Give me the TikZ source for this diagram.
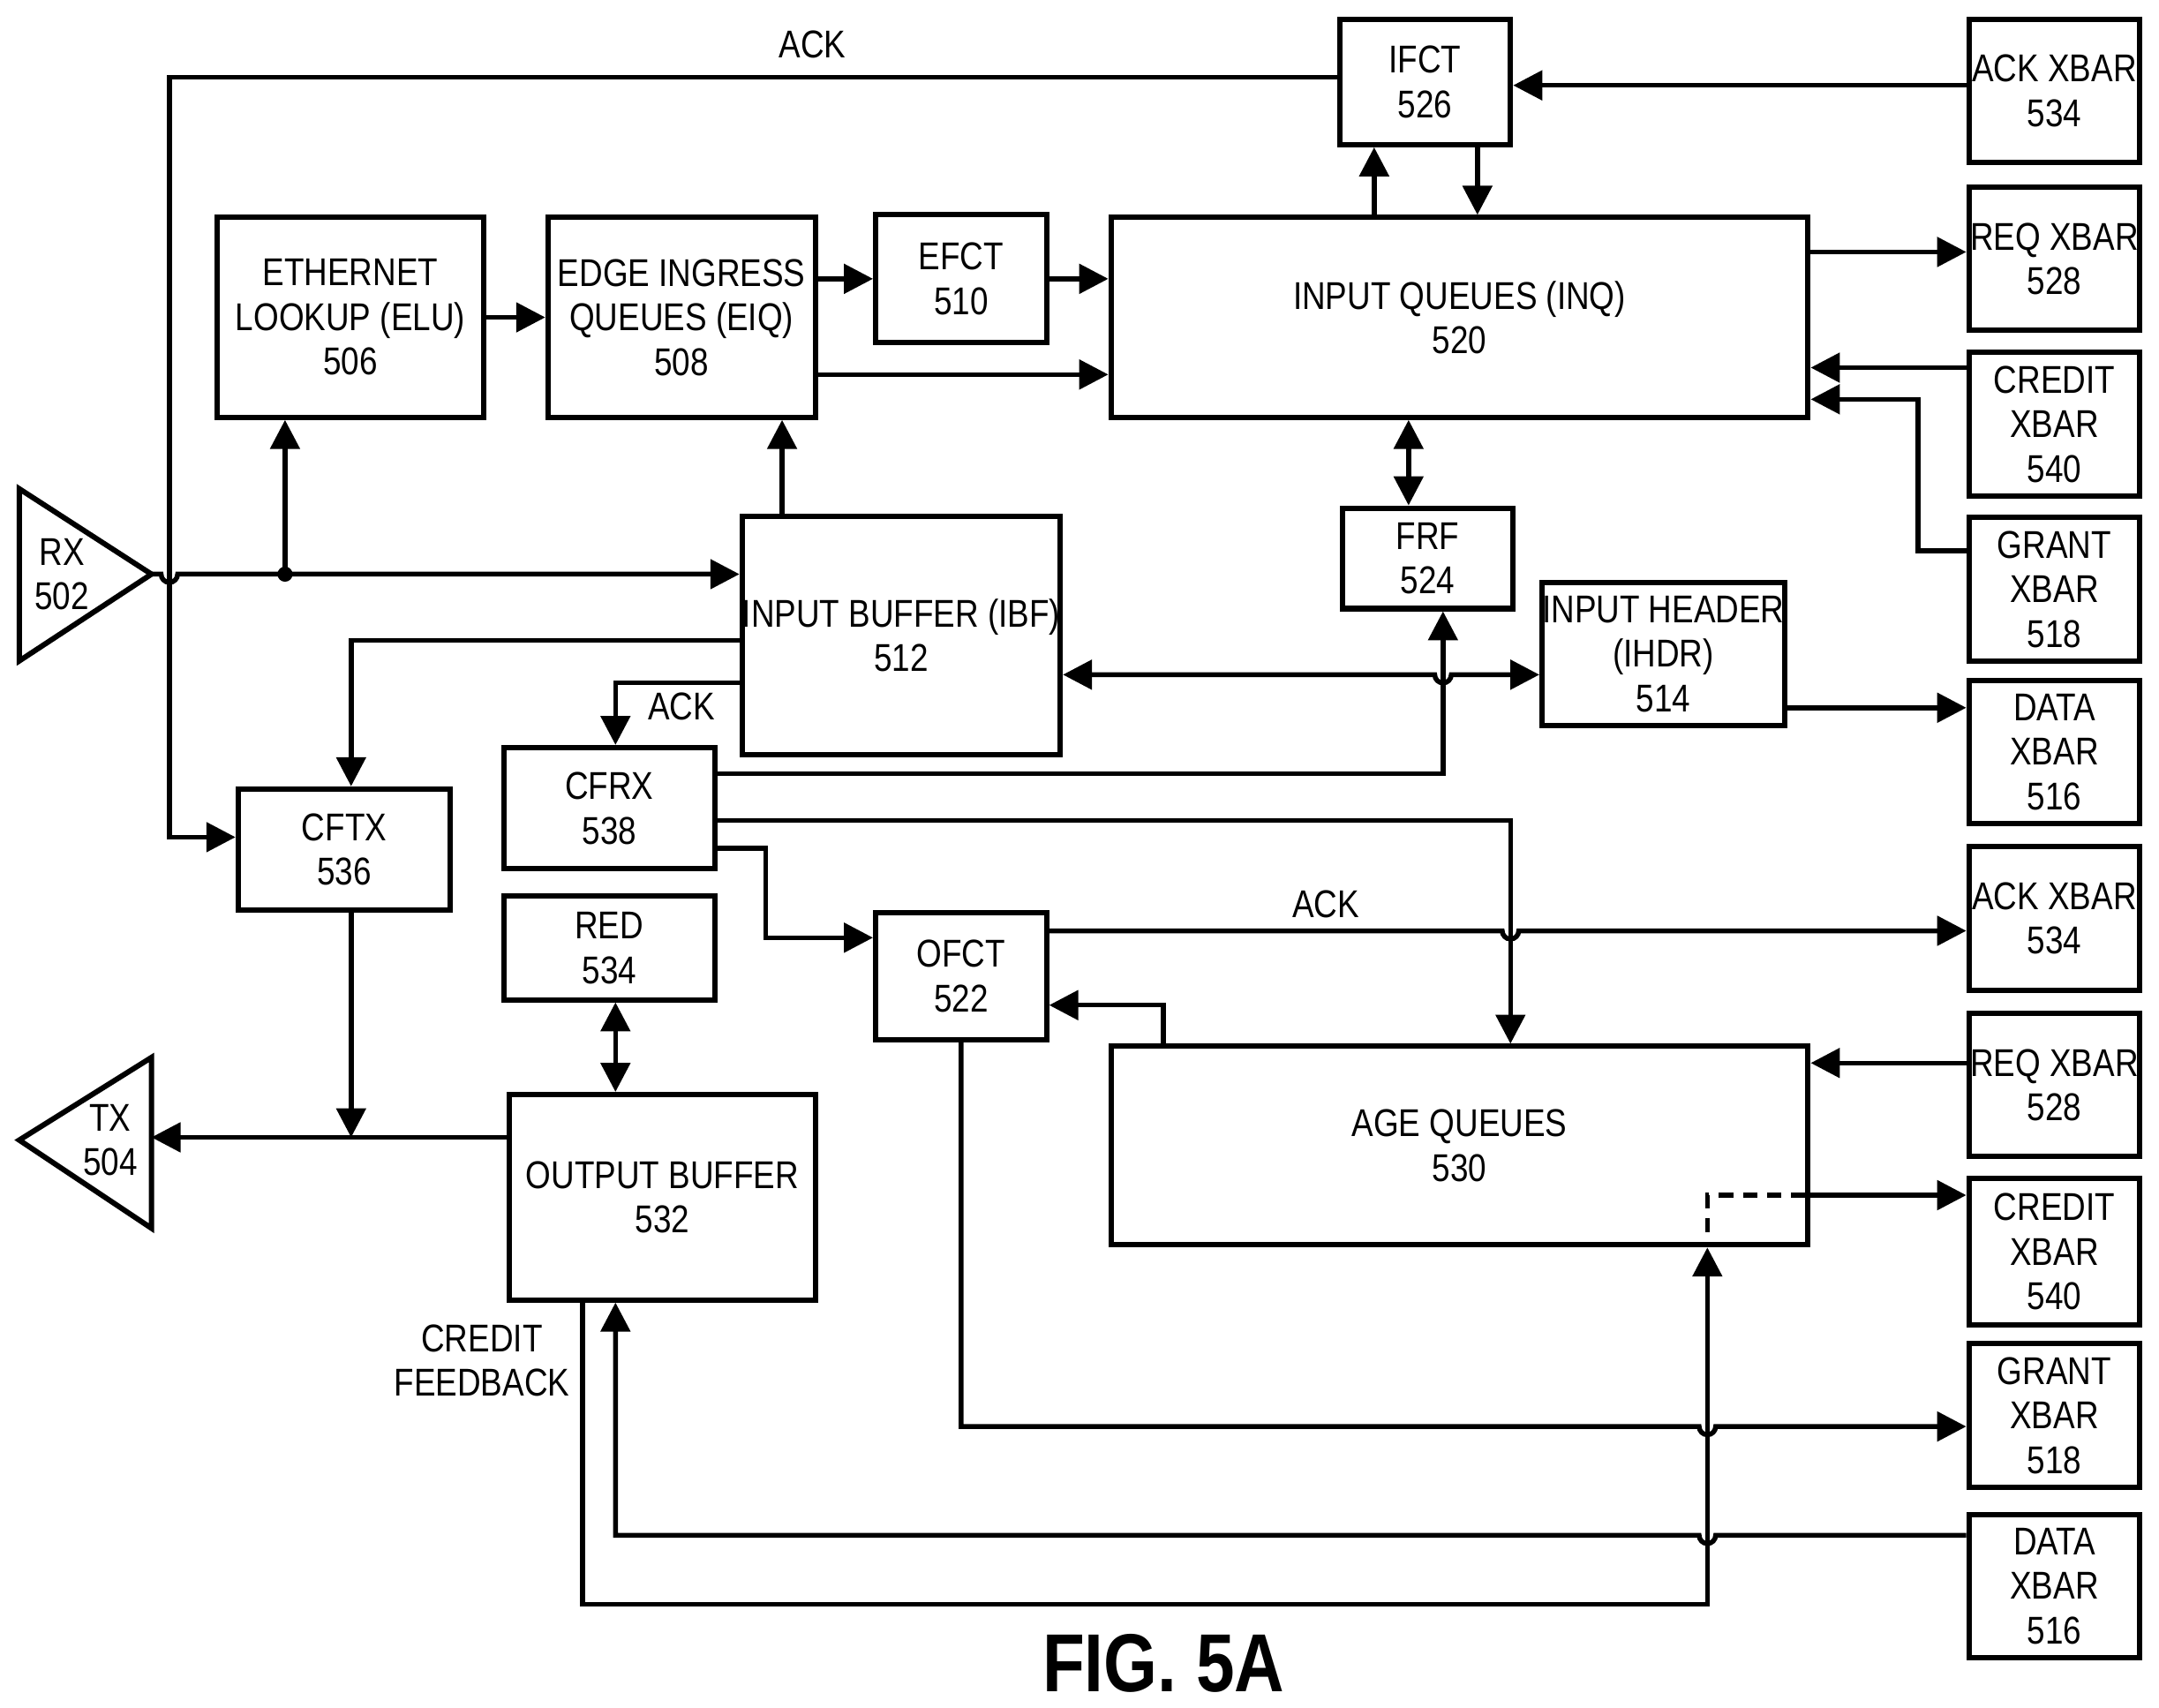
\documentclass[tikz,border=0pt]{standalone}
\usepackage{fontspec}
\setmainfont{Liberation Sans}[FakeStretch=0.84]
\usetikzlibrary{arrows.meta}

\tikzset{
  box/.style={draw,line width=1.1pt,rectangle,align=center,inner sep=0pt,font=\fontsize{8}{9.2}\selectfont},
  lbl/.style={align=center,inner sep=0pt,font=\fontsize{8}{9.2}\selectfont},
  wire/.style={line width=1pt},
  arr/.style={wire,-{Triangle[length=6pt,width=6pt]}},
  darr/.style={wire,{Triangle[length=6pt,width=6pt]}-{Triangle[length=6pt,width=6pt]}},
}
\newcommand{\hopR}{arc[start angle=180,end angle=360,radius=0.06cm]}
\newcommand{\hopL}{arc[start angle=0,end angle=-180,radius=0.06cm]}

\begin{document}
\begin{tikzpicture}[x=0.01cm,y=-0.01cm]
	\useasboundingbox (0,0) rectangle (1568,1240);

	% xbar column
	\node[box,minimum width=1.24cm,minimum height=1.04cm] (ackA) at (1492,66) {ACK XBAR\\534};
	\node[box,minimum width=1.24cm,minimum height=1.04cm] (reqA) at (1492,188) {REQ XBAR\\528};
	\node[box,minimum width=1.24cm,minimum height=1.04cm] (crdA) at (1492,308) {CREDIT\\XBAR\\540};
	\node[box,minimum width=1.24cm,minimum height=1.04cm] (grtA) at (1492,428) {GRANT\\XBAR\\518};
	\node[box,minimum width=1.24cm,minimum height=1.04cm] (datA) at (1492,546) {DATA\\XBAR\\516};
	\node[box,minimum width=1.24cm,minimum height=1.04cm] (ackB) at (1492,667) {ACK XBAR\\534};
	\node[box,minimum width=1.24cm,minimum height=1.04cm] (reqB) at (1492,788) {REQ XBAR\\528};
	\node[box,minimum width=1.24cm,minimum height=1.06cm] (crdB) at (1492,909) {CREDIT\\XBAR\\540};
	\node[box,minimum width=1.24cm,minimum height=1.04cm] (grtB) at (1492,1028) {GRANT\\XBAR\\518};
	\node[box,minimum width=1.24cm,minimum height=1.04cm] (datB) at (1492,1152) {DATA\\XBAR\\516};

	% ingress side
	\node[box,minimum width=1.24cm,minimum height=0.91cm] (ifct) at (1035,59.5) {IFCT\\526};
	\node[box,minimum width=1.93cm,minimum height=1.45cm] (elu) at (254.5,230.5) {ETHERNET\\LOOKUP (ELU)\\506};
	\node[box,minimum width=1.94cm,minimum height=1.45cm] (eiq) at (495,230.5) {EDGE INGRESS\\QUEUES (EIQ)\\508};
	\node[box,minimum width=1.24cm,minimum height=0.93cm] (efct) at (698,202.5) {EFCT\\510};
	\node[box,minimum width=5.06cm,minimum height=1.45cm] (inq) at (1060,230.5) {INPUT QUEUES (INQ)\\520};
	\node[box,minimum width=1.24cm,minimum height=0.73cm] (frf) at (1037,405.5) {FRF\\524};
	\node[box,minimum width=2.23cm,minimum height=1.73cm] (ibf) at (654.5,461.5) {INPUT BUFFER (IBF)\\512};
	\node[box,minimum width=1.76cm,minimum height=1.04cm] (ihdr) at (1208,475) {INPUT HEADER\\(IHDR)\\514};
	\node[box,minimum width=1.53cm,minimum height=0.88cm] (cfrx) at (442.5,587) {CFRX\\538};
	\node[box,minimum width=1.54cm,minimum height=0.88cm] (cftx) at (250,617) {CFTX\\536};
	\node[box,minimum width=1.53cm,minimum height=0.75cm] (red) at (442.5,688.5) {RED\\534};
	\node[box,minimum width=1.24cm,minimum height=0.92cm] (ofct) at (698,709) {OFCT\\522};
	\node[box,minimum width=5.06cm,minimum height=1.44cm] (age) at (1060,832) {AGE QUEUES\\530};
	\node[box,minimum width=2.22cm,minimum height=1.49cm] (ob) at (481,869.5) {OUTPUT BUFFER\\532};

	% ports
	\draw[line width=1.1pt] (14,355) -- (110,417) -- (14,480) -- cycle;
	\node[lbl] (rx) at (45,417) {RX\\502};
	\draw[line width=1.1pt] (110,768) -- (14,828) -- (110,892) -- cycle;
	\node[lbl] (tx) at (80,828) {TX\\504};
	\coordinate (rxo) at (110,417);
	\coordinate (txi) at (110,826);

	% labels
	\node[lbl] (lackA) at (590,32) {ACK};
	\node[lbl] (lackB) at (495,513) {ACK};
	\node[lbl] (lackC) at (963,657) {ACK};
	\node[lbl] (lcf) at (350,988) {CREDIT\\FEEDBACK};
	\node[inner sep=0pt,font=\bfseries\fontsize{17}{20}\selectfont] (fig) at (845,1208) {FIG. 5A};

	% connectors
	\draw[arr] (ifct.west |- 0,56) -- (123,56) -- (123,608) -- (cftx.west |- 0,608);
	\draw[arr] (ackA.west |- 0,62) -- (ifct.east |- 0,62);
	\draw[arr] (inq.north -| 998,0) -- (ifct.south -| 998,0);
	\draw[arr] (ifct.south -| 1073,0) -- (inq.north -| 1073,0);
	\draw[arr] (elu.east) -- (eiq.west);
	\draw[arr] (eiq.east |- efct.west) -- (efct.west);
	\draw[arr] (efct.east) -- (inq.west |- efct.east);
	\draw[arr] (eiq.east |- 0,272) -- (inq.west |- 0,272);
	\draw[arr] (inq.east |- 0,183) -- (reqA.west |- 0,183);
	\draw[arr] (crdA.west |- 0,267) -- (inq.east |- 0,267);
	\draw[arr] (grtA.west |- 0,400) -- (1393,400) -- (1393,290) -- (inq.east |- 0,290);
	\draw[darr] (inq.south -| 1023,0) -- (frf.north -| 1023,0);
	\draw[arr] (rxo) -- (117,417) \hopR -- (ibf.west |- 0,417);
	\fill (207,417) circle[radius=0.055cm];
	\draw[arr] (207,417) -- (elu.south -| 207,0);
	\draw[arr] (ibf.north -| 568,0) -- (eiq.south -| 568,0);
	\draw[arr] (ibf.west |- 0,465) -- (255,465) -- (cftx.north -| 255,0);
	\draw[arr] (ibf.west |- 0,496) -- (447,496) -- (cfrx.north -| 447,0);
	\draw[darr] (ibf.east |- 0,490) -- (1042,490) \hopR -- (ihdr.west |- 0,490);
	\draw[arr] (cfrx.east |- 0,562) -- (1048,562) -- (frf.south -| 1048,0);
	\draw[arr] (ihdr.east |- 0,514) -- (datA.west |- 0,514);
	\draw[arr] (cfrx.east |- 0,596) -- (1097,596) -- (age.north -| 1097,0);
	\draw[arr] (cfrx.east |- 0,616) -- (556,616) -- (556,681) -- (ofct.west |- 0,681);
	\draw[arr] (ofct.east |- 0,676) -- (1091,676) \hopR -- (ackB.west |- 0,676);
	\draw[arr] (age.north -| 845,0) -- (845,730) -- (ofct.east |- 0,730);
	\draw[arr] (reqB.west |- 0,772) -- (age.east |- 0,772);
	\draw[arr] (age.east |- 0,868) -- (crdB.west |- 0,868);
	\draw[wire,dashed,dash pattern=on 3pt off 2pt] (1240,895) -- (1240,868) -- (age.east |- 0,868);
	\draw[arr] (ofct.south -| 698,0) -- (698,1036) -- (1234,1036) \hopR -- (grtB.west |- 0,1036);
	\draw[arr] (datB.west |- 0,1115) -- (1246,1115) \hopL -- (447,1115) -- (ob.south -| 447,0);
	\draw[arr] (ob.south -| 423,0) -- (423,1165) -- (1240,1165) -- (age.south -| 1240,0);
	\draw[darr] (red.south -| 447,0) -- (ob.north -| 447,0);
	\draw[arr] (cftx.south -| 255,0) -- (255,826);
	\draw[arr] (ob.west |- 0,826) -- (txi);
\end{tikzpicture}
\end{document}
